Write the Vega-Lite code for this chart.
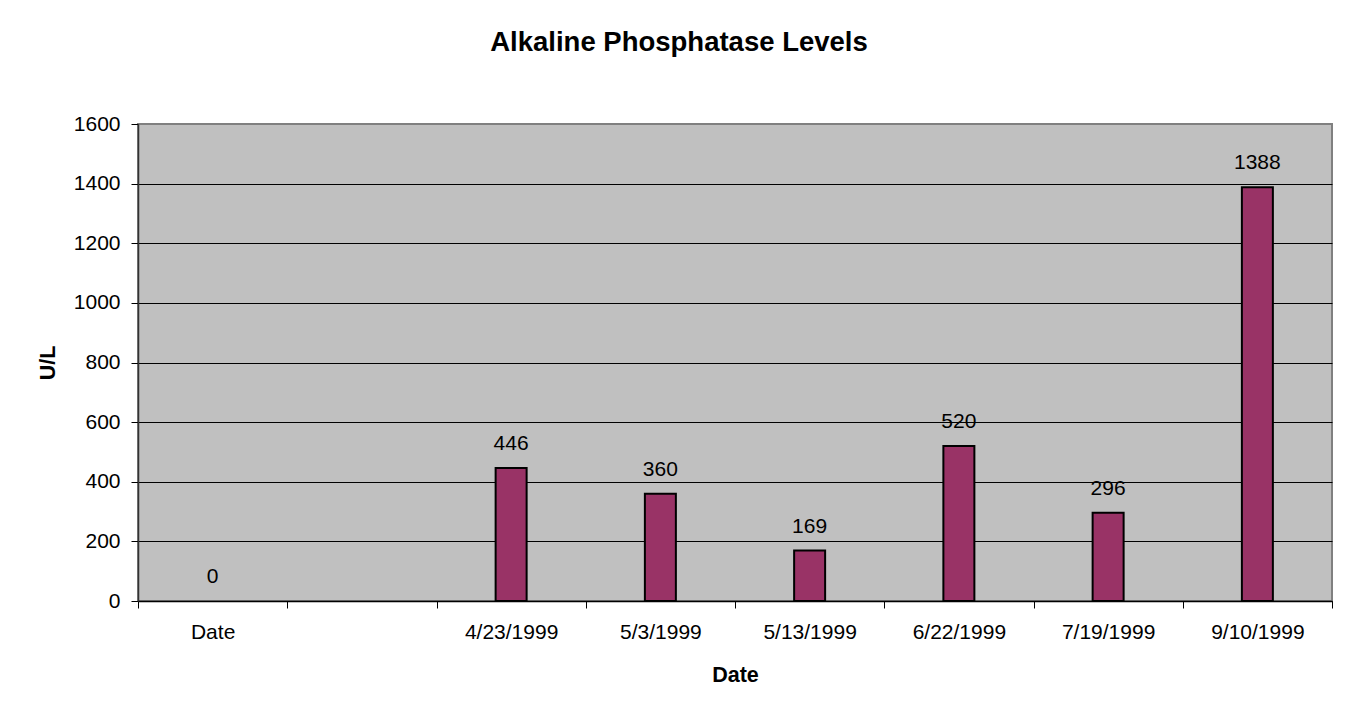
{
  "$schema": "https://vega.github.io/schema/vega-lite/v6.json",
  "width": 1194,
  "height": 477,
  "autosize": "none",
  "padding": {"left": 138, "top": 124, "right": 21, "bottom": 114},
  "background": "white",
  "title": {
    "text": "Alkaline Phosphatase Levels",
    "font": "Liberation Sans",
    "fontSize": 27.5,
    "fontWeight": "bold",
    "color": "black",
    "anchor": "middle",
    "baseline": "alphabetic",
    "dx": -56,
    "offset": 35
  },
  "config": {
    "view": {"fill": "#C0C0C0", "stroke": "#808080", "strokeWidth": 2},
    "font": "Liberation Sans"
  },
  "data": {
    "values": [
      {"date": "Date", "value": 0},
      {"date": "4/23/1999", "value": 446},
      {"date": "5/3/1999", "value": 360},
      {"date": "5/13/1999", "value": 169},
      {"date": "6/22/1999", "value": 520},
      {"date": "7/19/1999", "value": 296},
      {"date": "9/10/1999", "value": 1388}
    ]
  },
  "encoding": {
    "x": {
      "field": "date",
      "type": "nominal",
      "sort": null,
      "scale": {
        "domain": ["Date", " ", "4/23/1999", "5/3/1999", "5/13/1999", "6/22/1999", "7/19/1999", "9/10/1999"],
        "paddingInner": 0,
        "paddingOuter": 0
      },
      "axis": {
        "title": "Date",
        "titleFont": "Liberation Sans",
        "titleFontSize": 21.5,
        "titleFontWeight": "bold",
        "titleColor": "black",
        "titlePadding": 22,
        "labelFont": "Liberation Sans",
        "labelFontSize": 21,
        "labelColor": "black",
        "labelAngle": 0,
        "labelPadding": 13,
        "tickBand": "extent",
        "tickSize": 7,
        "tickColor": "black",
        "domainColor": "black",
        "domainWidth": 1.5,
        "grid": false
      }
    },
    "y": {
      "field": "value",
      "type": "quantitative",
      "scale": {"domain": [0, 1600], "nice": false},
      "axis": {
        "title": "U/L",
        "titleFont": "Liberation Sans",
        "titleFontSize": 21.5,
        "titleFontWeight": "bold",
        "titleColor": "black",
        "titlePadding": 14,
        "labelFont": "Liberation Sans",
        "labelFontSize": 21,
        "labelColor": "black",
        "labelPadding": 11,
        "format": "d",
        "values": [0, 200, 400, 600, 800, 1000, 1200, 1400, 1600],
        "tickSize": 7,
        "tickColor": "black",
        "domainColor": "#333333",
        "domainWidth": 1.5,
        "grid": true,
        "gridColor": {"condition": {"test": "datum.value === 1600", "value": "#808080"}, "value": "black"},
        "gridWidth": 1,
        "gridOpacity": 1
      }
    }
  },
  "layer": [
    {
      "transform": [{"filter": "datum.value > 0"}],
      "mark": {"type": "bar", "size": 31, "fill": "#993366", "stroke": "black", "strokeWidth": 2}
    },
    {
      "mark": {"type": "text", "baseline": "middle", "align": "center", "dy": -24, "fontSize": 21, "font": "Liberation Sans", "color": "black"},
      "encoding": {"text": {"field": "value", "type": "quantitative"}}
    }
  ]
}
